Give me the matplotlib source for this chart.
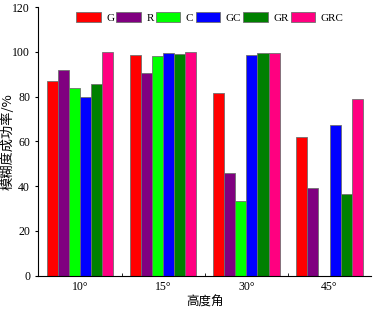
import matplotlib
matplotlib.use("Agg")
import matplotlib.pyplot as plt
import numpy as np

groups = ["10°", "15°", "30°", "45°"]
series = ["G", "R", "C", "GC", "GR", "GRC"]
G = [87.0, 98.7, 81.5, 62.0]
R = [92.0, 90.5, 45.8, 39.0]
C = [84.0, 98.2, 33.3, 0.0]
GC = [80.0, 99.5, 98.5, 67.5]
GR = [85.5, 99.0, 99.3, 36.5]
GRC = [100.0, 100.0, 99.6, 79.0]
values = [G, R, C, GC, GR, GRC]
colors = ["#FF0000", "#800080", "#00FF00", "#0000FF", "#008000", "#FF0080"]

serif = ["Liberation Serif", "DejaVu Serif"]
cjk = ["Noto Sans CJK SC", "DejaVu Sans"]

fig = plt.figure(figsize=(3.73, 3.09), dpi=100)
ax = fig.add_axes([0.103, 0.108, 0.892, 0.869])

x = np.arange(len(groups))
n = len(series)
w = 0.8 / n
for i, (name, vals, col) in enumerate(zip(series, values, colors)):
    ax.bar(x - 0.4 + w * (i + 0.5), vals, width=w, color=col, edgecolor="#707070",
           linewidth=0.6, label=name)

ax.set_xlim(-0.5, 3.5)
ax.set_ylim(0, 120)
ax.set_yticks([0, 20, 40, 60, 80, 100, 120])
ax.set_xticks(x)
ax.set_xticklabels(groups, family=serif, fontsize=8.5)
ax.set_xticks([0.5, 1.5, 2.5], minor=True)
ax.tick_params(axis="x", which="major", length=0, pad=4)
ax.tick_params(axis="x", which="minor", length=2, direction="in")
ax.tick_params(axis="y", direction="out", length=2.5, labelsize=8.5)
for lab in ax.get_yticklabels():
    lab.set_family(serif)
for s in ["top", "right"]:
    ax.spines[s].set_visible(False)
ax.set_ylabel("模糊度成功率/%", family=cjk, fontsize=9.5)
ax.yaxis.set_label_coords(-0.072, 0.5)
ax.set_xlabel("高度角", family=cjk, fontsize=9, labelpad=2)

leg = ax.legend(loc="upper left", bbox_to_anchor=(0.1, 1.0), ncol=6, frameon=False,
                prop={"family": serif, "size": 8}, handlelength=2.2, handleheight=1.1,
                handletextpad=0.5, columnspacing=0.2, borderaxespad=0.1, borderpad=0.3)

fig.savefig("out.png", dpi=100)
